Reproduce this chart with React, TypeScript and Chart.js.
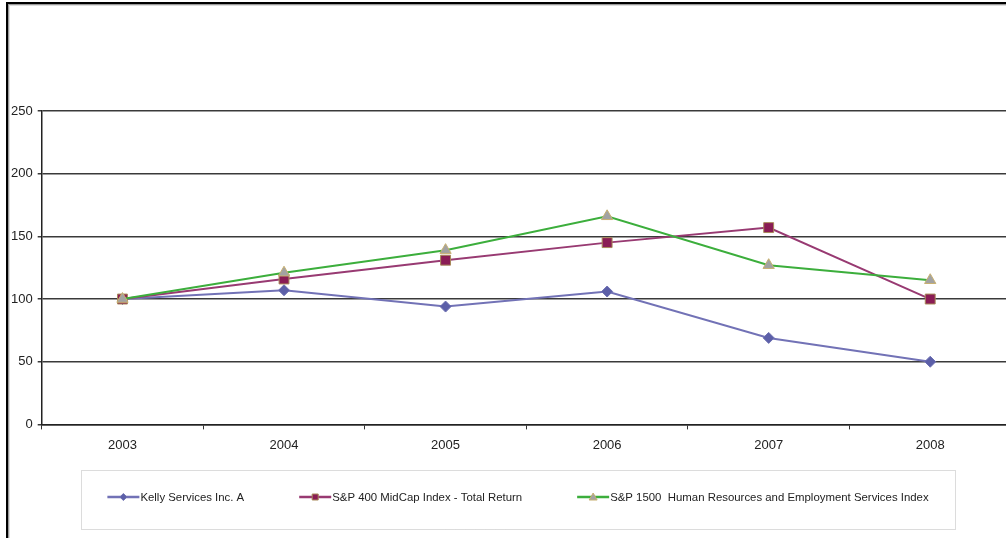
import React, { useEffect, useRef } from 'react';
import { Chart, registerables } from 'chart.js';

Chart.register(...registerables);

const years = ['2003', '2004', '2005', '2006', '2007', '2008'];
const kellyValues = [100, 107, 94, 106, 69, 50];
const midcapValues = [100, 116, 131, 145, 157, 100];
const hrIndexValues = [100, 121, 139, 166, 127, 115];
const yTickValues = [0, 50, 100, 150, 200, 250];
const seriesLabels = [
  'Kelly Services Inc. A',
  'S&P 400 MidCap Index - Total Return',
  'S&P 1500  Human Resources and Employment Services Index',
];

const FONT = '"Liberation Sans", Arial, sans-serif';

function drawMarker(ctx: CanvasRenderingContext2D, style: string, x: number, y: number, fill: string, stroke: string) {
  ctx.save();
  ctx.fillStyle = fill;
  ctx.strokeStyle = stroke;
  ctx.lineWidth = 1;
  ctx.beginPath();
  if (style === 'rectRot') {
    ctx.moveTo(x, y - 3.5);
    ctx.lineTo(x + 3.5, y);
    ctx.lineTo(x, y + 3.5);
    ctx.lineTo(x - 3.5, y);
    ctx.closePath();
  } else if (style === 'rect') {
    ctx.rect(x - 3, y - 3, 6, 6);
  } else {
    ctx.moveTo(x, y - 4);
    ctx.lineTo(x + 4, y + 3);
    ctx.lineTo(x - 4, y + 3);
    ctx.closePath();
  }
  ctx.fill();
  ctx.stroke();
  ctx.restore();
}

const framePlugin = {
  id: 'frame',
  beforeDraw(chart: any) {
    const ctx = chart.ctx as CanvasRenderingContext2D;
    ctx.save();
    ctx.fillStyle = '#ffffff';
    ctx.fillRect(0, 0, chart.width, chart.height);
    ctx.fillStyle = '#000000';
    ctx.fillRect(6, 2, chart.width, 2);
    ctx.fillRect(6, 2, 2, chart.height);
    ctx.fillStyle = '#9a9a9a';
    ctx.fillRect(8, 4, chart.width, 1);
    ctx.fillRect(8, 4, 1, chart.height);
    ctx.fillStyle = '#dddddd';
    ctx.fillRect(9, 5, chart.width, 1);
    ctx.fillRect(9, 5, 1, chart.height);
    ctx.restore();
  },
};

const boxLegendPlugin = {
  id: 'boxLegend',
  afterDraw(chart: any) {
    const ctx = chart.ctx as CanvasRenderingContext2D;
    const left = 81, right = 955, top = 470, bottom = 529;
    ctx.save();
    ctx.setLineDash([1, 1]);
    ctx.strokeStyle = '#b8b8b8';
    ctx.lineWidth = 1;
    ctx.strokeRect(left + 0.5, top + 0.5, right - left, bottom - top);
    ctx.setLineDash([]);
    ctx.font = '11.4px ' + FONT;
    ctx.textBaseline = 'middle';
    const lineW = 32, textGap = 1, itemGap = 55;
    const datasets = chart.data.datasets;
    const widths = datasets.map((ds: any) => lineW + textGap + ctx.measureText(ds.label).width);
    const total = widths.reduce((a: number, b: number) => a + b, 0) + itemGap * (widths.length - 1);
    let x = (left + right) / 2 - total / 2;
    const y = 497;
    datasets.forEach((ds: any, i: number) => {
      ctx.strokeStyle = ds.borderColor;
      ctx.lineWidth = 2.5;
      ctx.beginPath();
      ctx.moveTo(x, y);
      ctx.lineTo(x + lineW, y);
      ctx.stroke();
      drawMarker(ctx, ds.pointStyle, x + lineW / 2, y, ds.pointBackgroundColor, ds.pointBorderColor);
      ctx.fillStyle = '#222222';
      ctx.fillText(ds.label, x + lineW + textGap, y + 0.5);
      x += widths[i] + itemGap;
    });
    ctx.restore();
  },
};

export default function App() {
  const canvasRef = useRef<HTMLCanvasElement | null>(null);

  useEffect(() => {
    if (!canvasRef.current) return;
    const chart = new Chart(canvasRef.current, {
      type: 'line',
      data: {
        labels: years,
        datasets: [
          {
            label: seriesLabels[0],
            data: kellyValues,
            borderColor: '#7272b6',
            borderWidth: 2,
            pointStyle: 'rectRot',
            pointRadius: 5.5,
            pointBackgroundColor: '#5c5fa8',
            pointBorderColor: '#6d70b2',
            pointBorderWidth: 1,
            tension: 0,
            order: 2,
          },
          {
            label: seriesLabels[1],
            data: midcapValues,
            borderColor: '#983a72',
            borderWidth: 2,
            pointStyle: 'rect',
            pointRadius: 7,
            pointBackgroundColor: '#8a1c55',
            pointBorderColor: '#a88a5a',
            pointBorderWidth: 1,
            tension: 0,
            order: 1,
          },
          {
            label: seriesLabels[2],
            data: hrIndexValues,
            borderColor: '#3cae3c',
            borderWidth: 2,
            pointStyle: 'triangle',
            pointRadius: 6.5,
            pointBackgroundColor: '#a2a2a2',
            pointBorderColor: '#c8b070',
            pointBorderWidth: 1,
            tension: 0,
            order: 0,
          },
        ],
      },
      options: {
        animation: false,
        responsive: false,
        layout: { padding: { top: 111, left: 6, right: 2, bottom: 77 } },
        plugins: {
          legend: { display: false },
          tooltip: { enabled: false },
        },
        scales: {
          x: {
            offset: true,
            grid: {
              offset: true,
              drawOnChartArea: false,
              drawTicks: true,
              tickLength: 5,
              color: '#333333',
              lineWidth: 1,
            },
            border: { color: '#222222', width: 1.5 },
            ticks: { font: { family: FONT, size: 13 }, color: '#222222', padding: 8 },
          },
          y: {
            min: 0,
            max: 250,
            afterBuildTicks: (scale: any) => {
              scale.ticks = yTickValues.map((v) => ({ value: v }));
            },
            grid: { color: '#3a3a3a', lineWidth: 1.5, tickLength: 4 },
            border: { color: '#222222', width: 1.5 },
            ticks: { font: { family: FONT, size: 13 }, color: '#222222', padding: 5 },
          },
        },
      },
      plugins: [framePlugin, boxLegendPlugin],
    });
    return () => chart.destroy();
  }, []);

  return (
    <div
      style={{
        position: 'fixed',
        left: 0,
        top: 0,
        width: 1006,
        height: 538,
        overflow: 'hidden',
        background: '#ffffff',
      }}
    >
      <canvas ref={canvasRef} width={1019} height={538} style={{ width: 1019, height: 538, display: 'block' }} />
    </div>
  );
}
